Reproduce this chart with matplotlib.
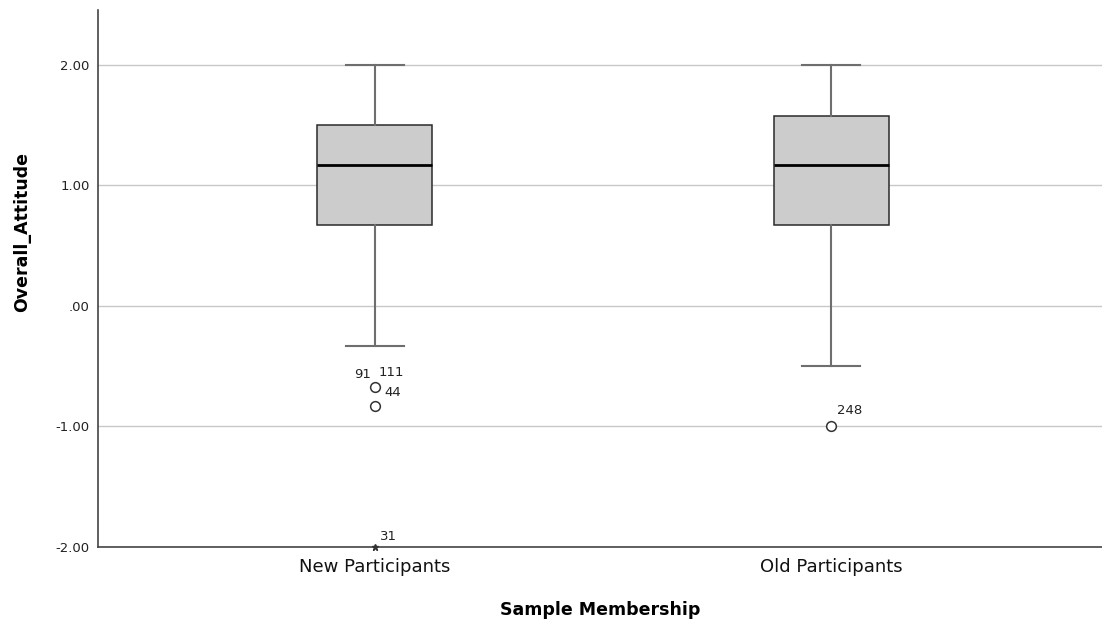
import matplotlib
matplotlib.use("Agg")
import matplotlib.pyplot as plt

categories = ["New Participants", "Old Participants"]
whislo = [-0.33, -0.50]
q1 = [0.67, 0.67]
med = [1.17, 1.17]
q3 = [1.50, 1.58]
whishi = [2.00, 2.00]
outliers = [[-0.67, -0.83], [-1.00]]
extremes = [[-2.00], []]
outlier_labels = [["91 111", "44"], ["248"]]
extreme_labels = [["31"], []]
yticks = [-2, -1, 0, 1, 2]
ytick_labels = ["-2.00", "-1.00", ".00", "1.00", "2.00"]

plt.rcParams['font.family'] = ['DejaVu Sans']
fig = plt.figure(figsize=(11.02, 6.28), dpi=100)
ax = fig.add_axes([98/1102, 1-547/628, 1-98/1102, (547-10)/628])

stats = []
for i in range(2):
    stats.append(dict(whislo=whislo[i], q1=q1[i], med=med[i], q3=q3[i],
                      whishi=whishi[i], fliers=[], label=categories[i]))
pos = [0, 1]
ax.bxp(stats, positions=pos, widths=0.252, patch_artist=True, showfliers=False,
       boxprops=dict(facecolor="#cccccc", edgecolor="#2a2a2a", linewidth=1.1),
       medianprops=dict(color="black", linewidth=2.0),
       whiskerprops=dict(color="#6e6e6e", linewidth=1.5),
       capprops=dict(color="#6e6e6e", linewidth=1.5),
       capwidths=0.126, zorder=3)

for i in range(2):
    if outliers[i]:
        ax.plot([pos[i]] * len(outliers[i]), outliers[i], 'o', mfc='white', mec='#333333',
                ms=7, mew=1.1, zorder=4, clip_on=False)
    if extremes[i]:
        ax.plot([pos[i]] * len(extremes[i]), extremes[i], '*', color='#333333',
                ms=5, zorder=4, clip_on=False)

lab_kw = dict(textcoords='offset pixels', fontsize=9.5, color='#222222', ha='left', va='center')
ax.annotate("91", (pos[0], outliers[0][0]), xytext=(-21, 12), **lab_kw)
ax.annotate("111", (pos[0], outliers[0][0]), xytext=(4, 14), **lab_kw)
ax.annotate(outlier_labels[0][1], (pos[0], outliers[0][1]), xytext=(9, 14), **lab_kw)
ax.annotate(extreme_labels[0][0], (pos[0], extremes[0][0]), xytext=(5, 11), **lab_kw)
ax.annotate(outlier_labels[1][0], (pos[1], outliers[1][0]), xytext=(6, 16), **lab_kw)

ax.set_xlim(-0.607, 1.594)
ax.set_ylim(-2.0, 2.456)
ax.set_yticks(yticks)
ax.set_yticklabels(ytick_labels, fontsize=9.5, color='#222222')
ax.set_xticks(pos)
ax.set_xticklabels(categories, fontsize=13, color='#111111')
ax.yaxis.grid(True, color='#c8c8c8', linewidth=1.0, zorder=0)
ax.set_axisbelow(True)
for s in ['top', 'right']:
    ax.spines[s].set_visible(False)
for s in ['left', 'bottom']:
    ax.spines[s].set_color('#444444')
    ax.spines[s].set_linewidth(1.2)
ax.tick_params(axis='both', length=0, pad=6)
ax.tick_params(axis='x', pad=8)
ax.set_ylabel("Overall_Attitude", fontsize=12.5, fontweight='bold', va='center')
ax.yaxis.set_label_coords(-0.0757, 0.587)
ax.set_xlabel("Sample Membership", fontsize=12.5, fontweight='bold', labelpad=18)

fig.savefig("out.png", dpi=100)
